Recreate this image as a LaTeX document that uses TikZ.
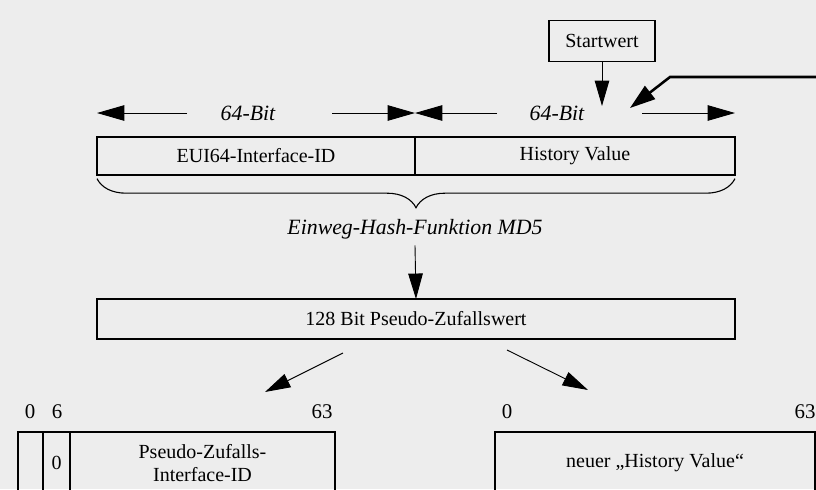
\documentclass[tikz,border=0pt]{standalone}
\usepackage{fontspec}
\setmainfont{Liberation Serif}
\usetikzlibrary{arrows.meta,decorations.pathreplacing}

% one unit of the drawing
\newcommand{\pxu}{0.55pt}

\tikzset{
  field/.style={draw, line width=0.8pt, inner sep=0pt, outer sep=0pt,
    minimum height=38*\pxu, anchor=north west, font=\fontsize{11}{13}\selectfont},
  flow/.style={line width=0.5pt, -{Triangle[length=14pt,width=8pt]}},
  bitarrow/.style={line width=0.5pt, -{Triangle[length=15pt,width=8.5pt]}},
  bits/.style={font=\fontsize{12}{14}\selectfont\itshape},
  bitpos/.style={font=\fontsize{11.5}{13}\selectfont},
}

\begin{document}
\begin{tikzpicture}[x=\pxu, y=-\pxu]
\useasboundingbox (0,0) rectangle (816,489);
\clip (0,0) rectangle (816,489);
\fill[black!7] (0,0) rectangle (816,489);

% Start value and feedback of the old value
\node[draw, line width=0.6pt, minimum width=106*\pxu, minimum height=41*\pxu,
  font=\fontsize{11}{13}\selectfont] (start) at (602,41) {Startwert};
\coordinate (startin) at (602,106);
\draw[flow] (start.south) -- (startin);

\coordinate (fbin) at (830,77);
\coordinate (fbknee) at (670,77);
\coordinate (fbtip) at (630,108);
\draw[line width=1.4pt, -{Triangle[length=14pt,width=9pt]}] (fbin) -- (fbknee) -- (fbtip);

% Input fields (2 x 64 bit)
\node[field, minimum width=318*\pxu] (eui) at (97,137) {EUI64-Interface-ID};
\node[field, minimum width=320*\pxu] (hist) at (eui.north east) {History Value};

% Width markers
\node[bits] (bitL) at (248,113) {64-Bit};
\node[bits] (bitR) at (557,113) {64-Bit};
\coordinate (l1) at (187,113);
\coordinate (l2) at (332,113);
\coordinate (r1) at (497,113);
\coordinate (r2) at (642,113);
\draw[bitarrow] (l1) -- (l1 -| eui.west);
\draw[bitarrow] (l2) -- (l2 -| eui.east);
\draw[bitarrow] (r1) -- (r1 -| hist.west);
\draw[bitarrow] (r2) -- (r2 -| hist.east);

% Hash over both fields
\draw[line width=0.6pt, decorate, decoration={brace, mirror, amplitude=16pt}]
  ([yshift=-2pt]eui.south west) -- ([yshift=-2pt]hist.south east);
\node[font=\fontsize{12}{14}\selectfont\itshape] (hash) at (415,229) {Einweg-Hash-Funktion MD5};

\node[field, minimum width=638*\pxu, minimum height=40*\pxu] (rnd) at (97,299) {128 Bit Pseudo-Zufallswert};
\draw[flow] (hash.south) -- (rnd.north);

% Split of the result
\coordinate (sl) at (343,353);
\coordinate (tl) at (265,392);
\coordinate (sr) at (507,350);
\coordinate (tr) at (588,390);
\draw[flow] (sl) -- (tl);
\draw[flow] (sr) -- (tr);

% Bit positions
\foreach \x/\n [count=\i] in {30/0, 57/6, 322/63, 507/0, 805/63}
  \node[bitpos] (bitno\i) at (\x,412) {\n};

% New interface ID and new history value
\node[field, minimum width=25*\pxu, minimum height=62*\pxu] (f0) at (18,432) {};
\node[field, minimum width=27*\pxu, minimum height=62*\pxu] (f6) at (f0.north east) {0};
\node[field, minimum width=265*\pxu, minimum height=62*\pxu, align=center] (iid) at (f6.north east)
  {Pseudo-Zufalls-\\Interface-ID};
\node[field, minimum width=320*\pxu, minimum height=62*\pxu] (newhist) at (495,432)
  {neuer „History Value“};
\end{tikzpicture}
\end{document}
